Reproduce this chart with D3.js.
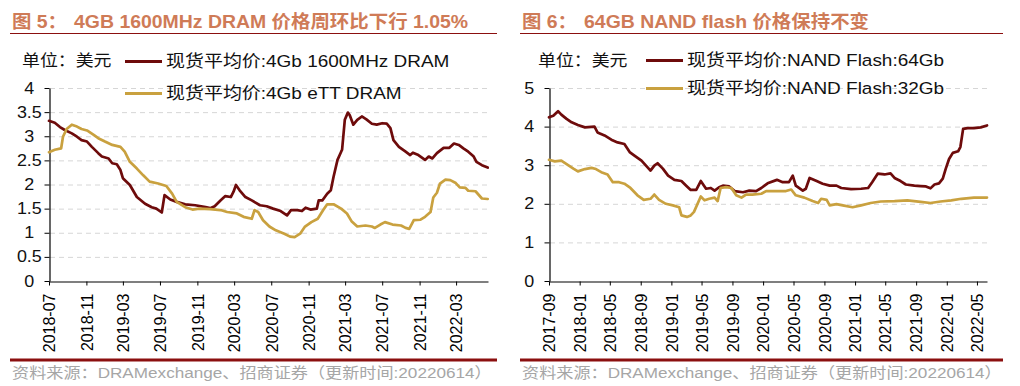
<!DOCTYPE html>
<html lang="zh"><head>
<meta charset="utf-8">
<title>DRAM / NAND 现货平均价</title>
<script src="https://cdn.jsdelivr.net/npm/d3@7/dist/d3.min.js"></script>
<style>
body{margin:0;background:#fff;}
text{font-family:"Liberation Sans",Arial,"Noto Sans CJK SC",sans-serif;}
</style>
</head><body>
<script>
var width = 1020, height = 386;
var SX = 1.12; // the original is slightly stretched horizontally
var darkColor = "#6E0B0B", goldColor = "#C9A13F";
var titleColor = "#CF7B57", ruleColor = "#8B0F0F";

// ---- 图5 data (USD) ----
var dramDates = ["2018-07-01","2018-07-20","2018-08-06","2018-08-22","2018-09-14","2018-10-01","2018-10-16","2018-11-03","2018-11-19","2018-12-10","2018-12-22",
  "2019-01-13","2019-01-25","2019-02-09","2019-02-21","2019-03-01","2019-03-24","2019-04-16","2019-05-13","2019-06-04","2019-06-19","2019-07-07","2019-07-16","2019-08-04","2019-08-25","2019-09-22","2019-10-25","2019-11-28","2019-12-13","2019-12-28",
  "2020-01-16","2020-02-01","2020-02-19","2020-02-28","2020-03-07","2020-03-19","2020-04-07","2020-04-28","2020-05-25","2020-06-16","2020-07-07","2020-08-01","2020-08-22","2020-09-04","2020-09-25","2020-10-10","2020-10-22","2020-11-07","2020-11-28","2020-12-04","2020-12-16",
  "2021-01-01","2021-01-13","2021-01-22","2021-02-04","2021-02-16","2021-02-19","2021-02-28","2021-03-10","2021-03-16","2021-03-28","2021-04-10","2021-04-25","2021-05-10","2021-05-28","2021-06-13","2021-07-01","2021-07-16","2021-07-28","2021-08-07","2021-08-25","2021-09-16","2021-10-01","2021-10-10","2021-10-28","2021-11-19","2021-12-01","2021-12-13","2021-12-28",
  "2022-01-19","2022-02-07","2022-02-22","2022-03-10","2022-03-25","2022-04-10","2022-04-28","2022-05-07","2022-05-25","2022-06-13"];
var dramVals = [3.32,3.28,3.19,3.13,3.06,2.99,2.92,2.89,2.78,2.65,2.58,
  2.54,2.44,2.42,2.30,2.13,1.99,1.74,1.60,1.53,1.50,1.42,1.78,1.69,1.64,1.59,1.57,1.53,1.51,1.55,
  1.67,1.76,1.74,1.85,1.99,1.88,1.74,1.67,1.57,1.55,1.50,1.45,1.36,1.47,1.47,1.45,1.52,1.48,1.50,1.67,1.67,
  1.81,1.88,2.16,2.51,2.68,2.72,3.34,3.49,3.44,3.24,3.34,3.41,3.35,3.26,3.24,3.27,3.26,3.17,2.92,2.78,2.68,2.61,2.66,2.61,2.51,2.58,2.54,2.65,
  2.76,2.76,2.85,2.82,2.75,2.68,2.58,2.47,2.40,2.35];

var ettDates = ["2018-07-01","2018-07-20","2018-08-10","2018-08-16","2018-08-28","2018-09-14","2018-10-01","2018-10-16","2018-11-03","2018-11-25","2018-12-10",
  "2019-01-01","2019-01-25","2019-02-21","2019-03-07","2019-03-24","2019-04-16","2019-05-07","2019-05-28","2019-06-25","2019-07-22","2019-08-10","2019-08-25","2019-09-22","2019-10-16","2019-11-07","2019-12-13",
  "2020-01-16","2020-02-07","2020-03-10","2020-04-01","2020-04-28","2020-05-07","2020-05-19","2020-06-04","2020-06-25","2020-07-16","2020-08-13","2020-09-01","2020-09-16","2020-10-04","2020-10-19","2020-11-10","2020-12-01","2020-12-19",
  "2021-01-01","2021-01-22","2021-02-16","2021-03-07","2021-03-22","2021-04-10","2021-05-07","2021-05-28","2021-06-07","2021-06-25","2021-07-10","2021-08-04","2021-09-01","2021-09-16","2021-09-28","2021-10-13","2021-11-04","2021-11-19","2021-12-07","2021-12-16","2021-12-28",
  "2022-01-07","2022-01-25","2022-02-10","2022-02-28","2022-03-13","2022-04-01","2022-04-10","2022-05-04","2022-05-25","2022-06-13"];
var ettVals = [2.67,2.72,2.75,2.99,3.15,3.24,3.20,3.15,3.12,3.03,2.96,
  2.89,2.82,2.78,2.68,2.47,2.33,2.19,2.06,2.02,1.97,1.81,1.64,1.53,1.48,1.50,1.49,
  1.47,1.43,1.40,1.33,1.29,1.47,1.43,1.26,1.13,1.05,0.98,0.92,0.91,0.98,1.12,1.22,1.29,1.47,
  1.59,1.59,1.50,1.40,1.24,1.13,1.15,1.13,1.10,1.17,1.22,1.17,1.15,1.10,1.08,1.26,1.27,1.33,1.43,1.73,1.83,
  2.02,2.10,2.09,2.03,1.94,1.93,1.87,1.86,1.71,1.70];

var dramTicks = ["2018-07","2018-11","2019-03","2019-07","2019-11","2020-03","2020-07","2020-11","2021-03","2021-07","2021-11","2022-03"];
var dramYTicks = [0,0.5,1,1.5,2,2.5,3,3.5,4];

// ---- 图6 data (USD) ----
var n64Dates = ["2017-09-01","2017-09-18","2017-10-07","2017-10-20","2017-11-10","2017-11-30","2017-12-25",
  "2018-01-22","2018-03-01","2018-03-13","2018-04-10","2018-05-07","2018-06-01","2018-06-28","2018-07-19","2018-08-07","2018-09-04","2018-09-22","2018-10-10","2018-10-25","2018-11-07","2018-11-28","2018-12-19",
  "2019-01-13","2019-02-10","2019-03-01","2019-03-19","2019-04-10","2019-04-28","2019-05-19","2019-06-07","2019-06-22","2019-07-10","2019-07-25","2019-08-19","2019-09-10","2019-10-13","2019-11-07","2019-12-04","2019-12-25",
  "2020-01-19","2020-02-25","2020-03-19","2020-04-13","2020-04-28","2020-05-10","2020-06-07","2020-06-19","2020-07-04","2020-08-01","2020-08-25","2020-09-22","2020-10-19","2020-11-07","2020-12-16",
  "2021-01-25","2021-02-22","2021-03-10","2021-04-01","2021-04-28","2021-05-22","2021-06-07","2021-07-01","2021-07-22","2021-08-25","2021-09-19","2021-10-10","2021-10-28","2021-11-13","2021-12-01","2021-12-16","2021-12-28",
  "2022-01-10","2022-01-25","2022-02-15","2022-02-24","2022-03-07","2022-03-25","2022-04-19","2022-05-16","2022-06-10"];
var n64Vals = [4.24,4.28,4.40,4.31,4.20,4.11,4.04,
  3.98,4.00,3.85,3.77,3.66,3.59,3.55,3.34,3.25,3.12,2.99,2.86,2.99,3.05,2.91,2.73,
  2.62,2.59,2.47,2.36,2.36,2.59,2.39,2.41,2.34,2.43,2.47,2.45,2.33,2.30,2.34,2.33,2.41,
  2.53,2.62,2.56,2.56,2.73,2.47,2.34,2.39,2.67,2.59,2.52,2.47,2.47,2.41,2.38,
  2.39,2.41,2.56,2.78,2.76,2.79,2.67,2.59,2.50,2.47,2.46,2.45,2.40,2.50,2.53,2.65,2.91,
  3.16,3.32,3.36,3.47,3.94,3.96,3.96,3.98,4.03];

var n32Dates = ["2017-09-01","2017-09-24","2017-10-20","2017-11-10","2017-12-07","2017-12-25",
  "2018-01-22","2018-02-17","2018-03-07","2018-03-28","2018-04-22","2018-05-13","2018-06-07","2018-06-28","2018-07-22","2018-08-19","2018-09-13","2018-10-10","2018-10-25","2018-11-13","2018-12-10",
  "2019-01-07","2019-02-01","2019-02-10","2019-03-04","2019-03-19","2019-04-01","2019-04-28","2019-05-13","2019-06-01","2019-06-22","2019-07-04","2019-07-16","2019-08-07","2019-08-28","2019-09-16","2019-10-07","2019-10-25","2019-11-19","2019-12-25",
  "2020-01-13","2020-02-22","2020-04-01","2020-04-22","2020-05-10","2020-06-13","2020-07-16","2020-08-07","2020-08-19","2020-09-10","2020-09-22","2020-10-19","2020-11-13","2020-12-22",
  "2021-01-25","2021-03-04","2021-04-13","2021-06-07","2021-07-28","2021-09-19","2021-10-28","2021-12-07",
  "2022-01-19","2022-02-28","2022-04-19","2022-06-10"];
var n32Vals = [3.14,3.10,3.12,3.03,2.91,2.84,
  2.90,2.93,2.90,2.82,2.76,2.56,2.56,2.52,2.41,2.22,2.10,2.13,2.24,2.10,2.00,
  1.96,1.91,1.70,1.66,1.70,1.79,2.19,2.09,2.13,2.16,2.07,2.41,2.43,2.41,2.22,2.16,2.24,2.24,2.26,
  2.33,2.33,2.33,2.37,2.22,2.16,2.07,2.02,2.13,2.10,1.96,1.99,1.96,1.91,
  1.96,2.02,2.06,2.07,2.09,2.05,2.02,2.06,
  2.09,2.13,2.16,2.16];

var nandTicks = ["2017-09","2018-01","2018-05","2018-09","2019-01","2019-05","2019-09","2020-01","2020-05","2020-09","2021-01","2021-05","2021-09","2022-01","2022-05"];
var nandYTicks = [0,1,2,3,4,5];

var parseDay = d3.timeParse("%Y-%m-%d"), parseMonth = d3.timeParse("%Y-%m");
function series(dates, vals){
    return d3.zip(dates, vals).map(function(d){ return {date: parseDay(d[0]), v: d[1]}; });
}

var svg = d3.select("body").append("svg").attr("width", width).attr("height", height);

function stretched(g, x, y, str, size, sx){
    return g.append("text").attr("transform", "translate(" + x + "," + y + ") scale(" + (sx || SX) + ",1)")
        .attr("font-size", size + "px").text(str);
}

function drawPanel(p){
    var g = svg.append("g");

    // title: head and body as two texts so there is a gap after the colon
    var th = stretched(g, p.left, 28, p.titleHead, 18, 1.08).attr("font-weight", "bold").attr("fill", titleColor);
    var hw = th.node().getBBox().width * 1.08;
    stretched(g, p.left + hw + 7, 28, p.titleBody, 18, 1.08).attr("font-weight", "bold").attr("fill", titleColor);
    g.append("line").attr("x1", p.left - 2).attr("x2", p.right).attr("y1", 33.5).attr("y2", 33.5)
        .attr("stroke", ruleColor).attr("stroke-width", 1.2);
    g.append("line").attr("x1", p.left - 2).attr("x2", p.right).attr("y1", 360).attr("y2", 360)
        .attr("stroke", ruleColor).attr("stroke-width", 3);
    stretched(g, p.left, 378, "资料来源：DRAMexchange、招商证券（更新时间:20220614）", 15.3).attr("fill", "#A6A6A6");

    var x = d3.scaleTime().domain([parseDay(p.start), parseDay(p.end)]).range([p.x0, p.x1]);
    var y = d3.scaleLinear().domain([0, d3.max(p.yTicks)]).range([281, 88]);

    // grid
    g.append("g").selectAll("line").data(p.yTicks.filter(function(d){ return d > 0; })).enter().append("line")
        .attr("x1", p.x0 + 1).attr("x2", p.x1).attr("y1", function(d){ return y(d) + 0.5; }).attr("y2", function(d){ return y(d) + 0.5; })
        .attr("stroke", "#D6D6D6").attr("stroke-dasharray", "5,4");

    // axes
    var gy = g.append("g").attr("transform", "translate(" + (p.x0 + 0.5) + ",0)").attr("color", "#000")
        .call(d3.axisLeft(y).tickValues(p.yTicks).tickFormat(d3.format("~g")).tickSize(5).tickSizeOuter(0));
    gy.selectAll("text").attr("font-size", "16px").attr("text-anchor", "middle").attr("x", -18)
        .attr("transform", "scale(" + SX + ",1)").attr("font-family", null).attr("fill", "#111");

    var gx = g.append("g").attr("transform", "translate(0,281.5)").attr("color", "#000")
        .call(d3.axisBottom(x).tickValues(p.xTicks.map(parseMonth)).tickFormat(d3.timeFormat("%Y-%m")).tickSize(4).tickSizeOuter(0));
    gx.selectAll("text").attr("font-size", "16px").attr("transform", "rotate(-90)").attr("text-anchor", "end")
        .attr("x", -12).attr("y", 0).attr("dy", "0.36em").attr("font-family", null);
    g.selectAll(".domain").attr("stroke-width", 1.2);

    // lines
    var line = d3.line().x(function(d){ return x(d.date); }).y(function(d){ return y(d.v); });
    p.series.forEach(function(s){
        g.append("path").datum(s.data).attr("d", line).attr("fill", "none").attr("stroke", s.color)
            .attr("stroke-width", 2.7).attr("stroke-linejoin", "round").attr("stroke-linecap", "round");
    });

    // unit + legend
    stretched(g, p.unitX, 66, "单位：美元", 16).attr("fill", "#111");
    p.series.forEach(function(s, i){
        var ly = p.legendY[i];
        var t = stretched(g, p.legX + 41, ly + 5.5, s.name, 16.5, 1.15).attr("fill", "#111");
        var w = t.node().getBBox().width * 1.15;
        g.insert("rect", "text").attr("x", p.legX - 3).attr("y", ly - 10).attr("width", w + 48).attr("height", 20).attr("fill", "#fff");
        g.append("line").attr("x1", p.legX).attr("x2", p.legX + 37).attr("y1", ly).attr("y2", ly)
            .attr("stroke", s.color).attr("stroke-width", 3.2);
    });
}

drawPanel({
    left: 12, right: 497, x0: 49, x1: 488, start: "2018-07-01", end: "2022-06-14",
    titleHead: "图 5：", titleBody: "4GB 1600MHz DRAM 价格周环比下行 1.05%",
    yTicks: dramYTicks, xTicks: dramTicks, unitX: 22, legX: 125, legendY: [61.5, 93.5],
    series: [
        {name: "现货平均价:4Gb 1600MHz DRAM", color: darkColor, data: series(dramDates, dramVals)},
        {name: "现货平均价:4Gb eTT DRAM", color: goldColor, data: series(ettDates, ettVals)}
    ]
});

drawPanel({
    left: 522, right: 1003, x0: 549, x1: 987, start: "2017-09-01", end: "2022-06-10",
    titleHead: "图 6：", titleBody: "64GB NAND flash 价格保持不变",
    yTicks: nandYTicks, xTicks: nandTicks, unitX: 538, legX: 646, legendY: [60.5, 88.5],
    series: [
        {name: "现货平均价:NAND Flash:64Gb", color: darkColor, data: series(n64Dates, n64Vals)},
        {name: "现货平均价:NAND Flash:32Gb", color: goldColor, data: series(n32Dates, n32Vals)}
    ]
});
</script>
</body>
</html>
